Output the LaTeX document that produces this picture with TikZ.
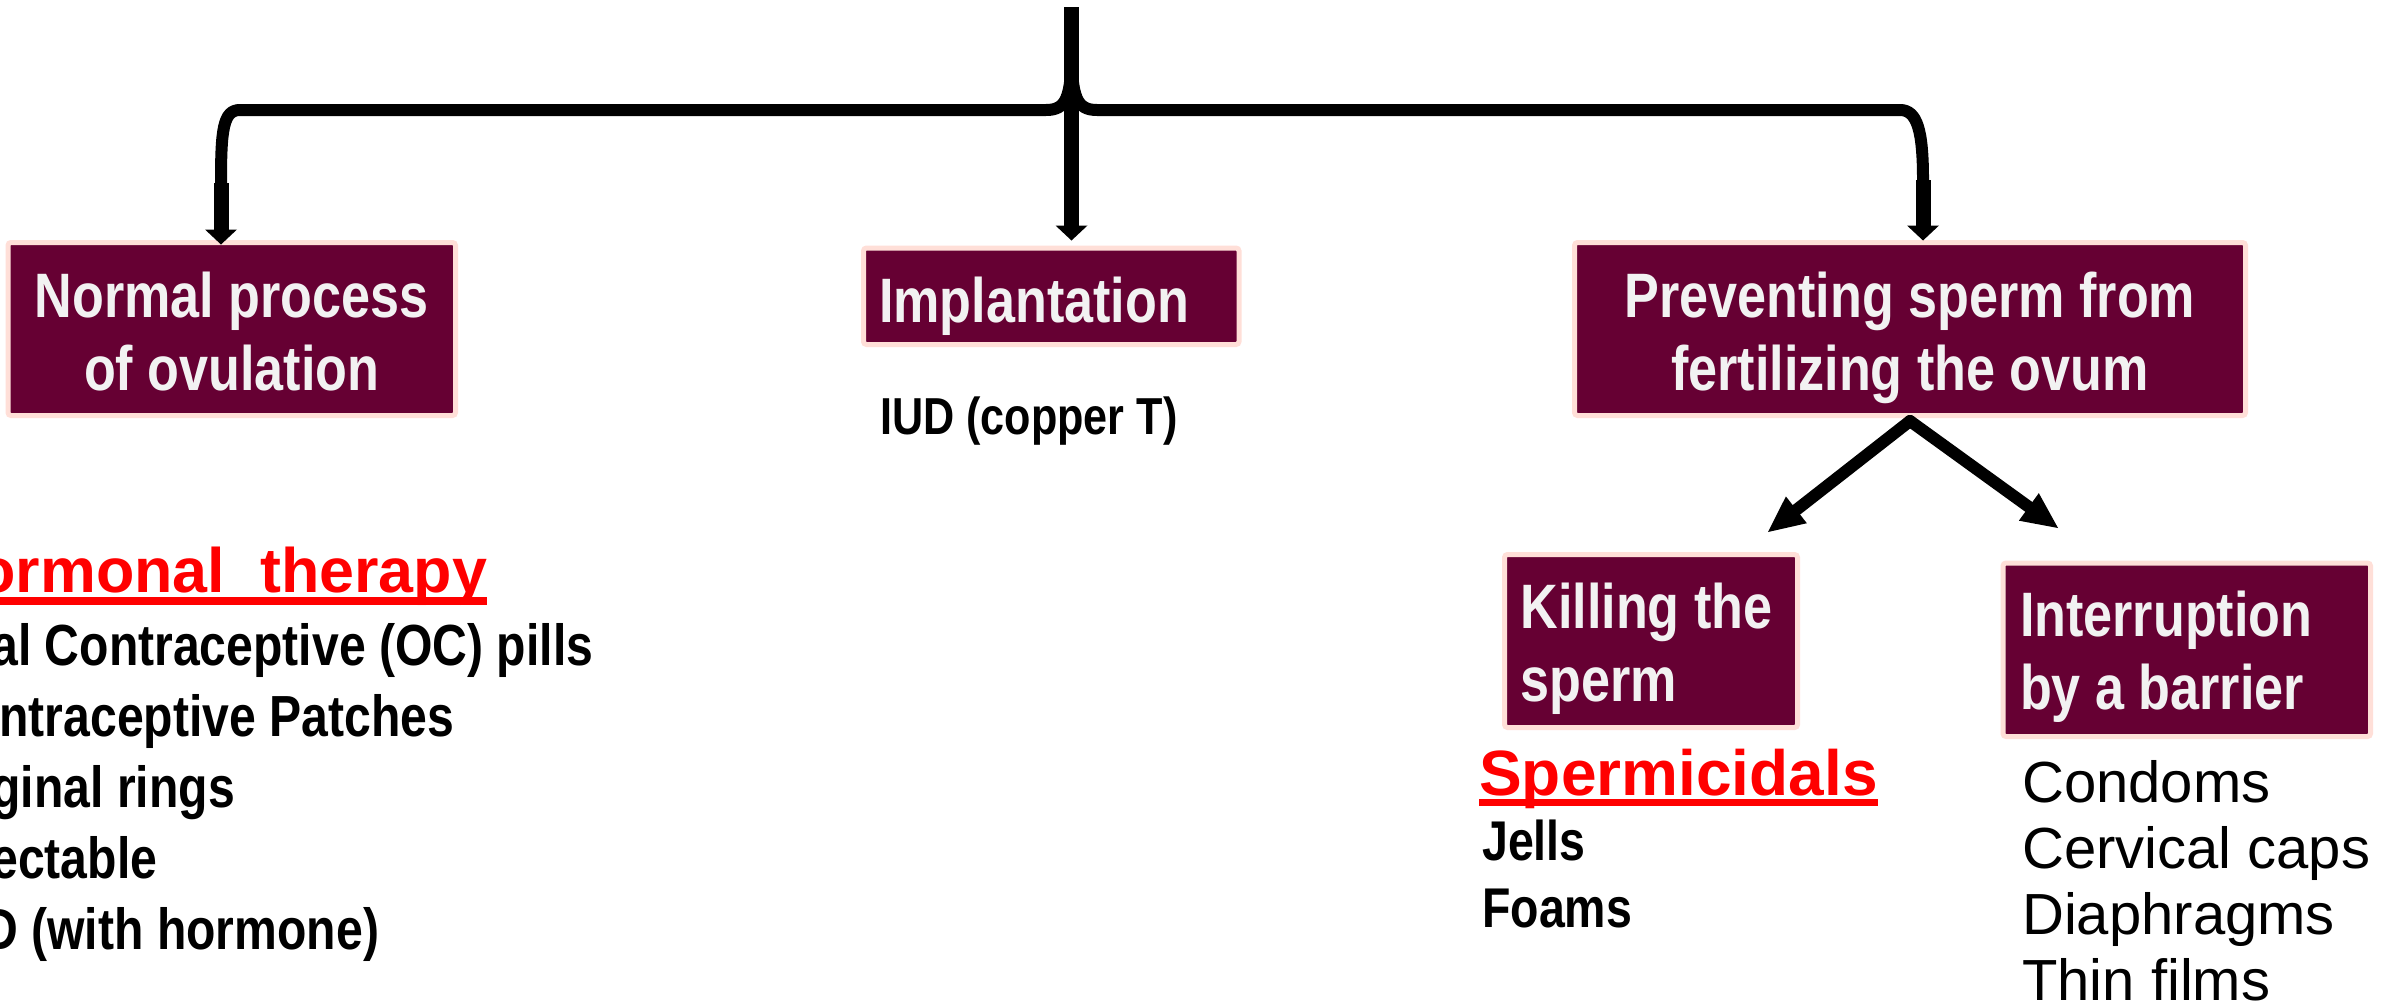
\documentclass[tikz,border=0pt]{standalone}
\usepackage{fontspec}
\setmainfont{Liberation Sans}
\newfontfamily\condsans[FakeStretch=0.83]{Liberation Sans}
\usetikzlibrary{arrows.meta}

\definecolor{boxfill}{HTML}{660033}
\definecolor{boxrim}{HTML}{FFDFD8}
\definecolor{boxtext}{HTML}{F2F2F2}
\definecolor{headred}{HTML}{FF0000}

% text with a bar under it: #1 gap below the baseline, #2 bar thickness, #3 text
\newcommand\barunder[3]{\setbox0\hbox{#3}\rlap{\rule[-\dimexpr#1+#2\relax]{\wd0}{#2}}\box0}

\tikzset{
  catbox/.style={draw=boxrim, fill=boxfill, line width=5pt, rounded corners=3pt,
    text=boxtext, font=\condsans\bfseries\fontsize{62.8}{73}\selectfont,
    inner ysep=0pt, anchor=center},
  conn/.style={draw=black, line width=12pt, line join=round},
  shaft/.style={draw=black, line width=15pt,
    -{Triangle[length=15pt 0 0, width=32pt 0 0, line width=0pt 0 0]}},
  diag/.style={draw=black, line width=12pt, line cap=round,
    -{Triangle[length=36pt 0 0, width=34pt 0 0, line width=0pt 0 0]}},
  plain/.style={inner sep=0pt, anchor=base west},
  boldlist/.style={plain, font=\condsans\bfseries\fontsize{58}{71}\selectfont, align=flush left},
  redhead/.style={plain, text=headred, font=\bfseries\fontsize{62.8}{73}\selectfont},
  itemlist/.style={plain, font=\fontsize{58}{66}\selectfont, align=flush left}
}

\begin{document}
\begin{tikzpicture}[x=1pt, y=-1pt]
  \path[use as bounding box] (0,0) rectangle (2389,1004);
  \clip (0,0) rectangle (2389,1004);
  \fill[white] (0,0) rectangle (2389,1004);

  % category boxes
  \node[catbox, minimum height=173pt, inner xsep=10pt, text width=427.5pt, align=flush center,
        text height=50pt, text depth=74pt] (ovul) at (231.75,329)
        {Normal process\\of ovulation};
  \node[catbox, minimum height=96.5pt, inner xsep=15.5pt, text width=344.5pt, align=flush left,
        text height=60pt, text depth=8.5pt] (impl) at (1051.25,296.25)
        {Implantation};
  \node[catbox, minimum height=173pt, inner xsep=10pt, text width=651pt, align=flush center,
        text height=50pt, text depth=74pt] (prev) at (1910,329)
        {Preventing sperm from\\fertilizing the ovum};
  \node[catbox, minimum height=173pt, inner xsep=16pt, text width=261pt, align=flush left,
        text height=50pt, text depth=76pt] (kill) at (1651,641)
        {Killing the\\sperm};
  \node[catbox, minimum height=173.5pt, inner xsep=17pt, text width=333.5pt, align=flush left,
        text height=50pt, text depth=77.5pt] (barr) at (2186.75,649.75)
        {Interruption\\by a barrier};

  % method lists
  \node[plain, font=\condsans\bfseries\fontsize{52}{62}\selectfont] (iud) at (880,434)
        {IUD (copper T)};
  \node[redhead] (horm) at (-68,592) {\barunder{5pt}{8pt}{Hormonal\ \ therapy}};
  \node[boldlist, text width=700pt] (hormlist) at (-65,665)
        {Oral Contraceptive (OC) pills\\Contraceptive Patches\\Vaginal rings\\Injectable\\IUD (with hormone)};
  \node[plain, text=headred, font=\bfseries\fontsize{64}{74}\selectfont] (sperm) at (1479,795)
        {\barunder{4pt}{7pt}{Spermicidals}};
  \node[boldlist, font=\condsans\bfseries\fontsize{56}{67}\selectfont, text width=300pt] (spermlist) at (1482,860)
        {Jells\\Foams};
  \node[itemlist, text width=400pt] (barrlist) at (2022,802)
        {Condoms\\Cervical caps\\Diaphragms\\Thin films};

  % branching connectors from the top
  \coordinate (top) at (1071.5,7);
  \coordinate (lbend) at (221,183);
  \coordinate (rbend) at (1923,180);
  \draw[conn] (top) -- (1071.5,50) .. controls (1071.5,98) and (1066,110) .. (1046,110)
        -- (240,110) .. controls (223,110) and (221,130) .. (lbend);
  \draw[conn] (top) -- (1071.5,50) .. controls (1071.5,98) and (1077,110) .. (1097,110)
        -- (1900,110) .. controls (1917,110) and (1923,130) .. (rbend);
  \draw[shaft, shorten >=-4.5pt] (lbend) -- (lbend |- ovul.north);
  \draw[shaft, shorten >=-0.5pt] (rbend) -- (rbend |- prev.north);
  \draw[shaft, shorten >=5pt] (top) -- (top |- impl.north);

  % split below the third box
  \coordinate (ktip) at (1768,532);
  \coordinate (btip) at (2058,528);
  \draw[diag] ([yshift=-3pt]prev.south) -- (ktip);
  \draw[diag] ([yshift=-3pt]prev.south) -- (btip);
\end{tikzpicture}
\end{document}
